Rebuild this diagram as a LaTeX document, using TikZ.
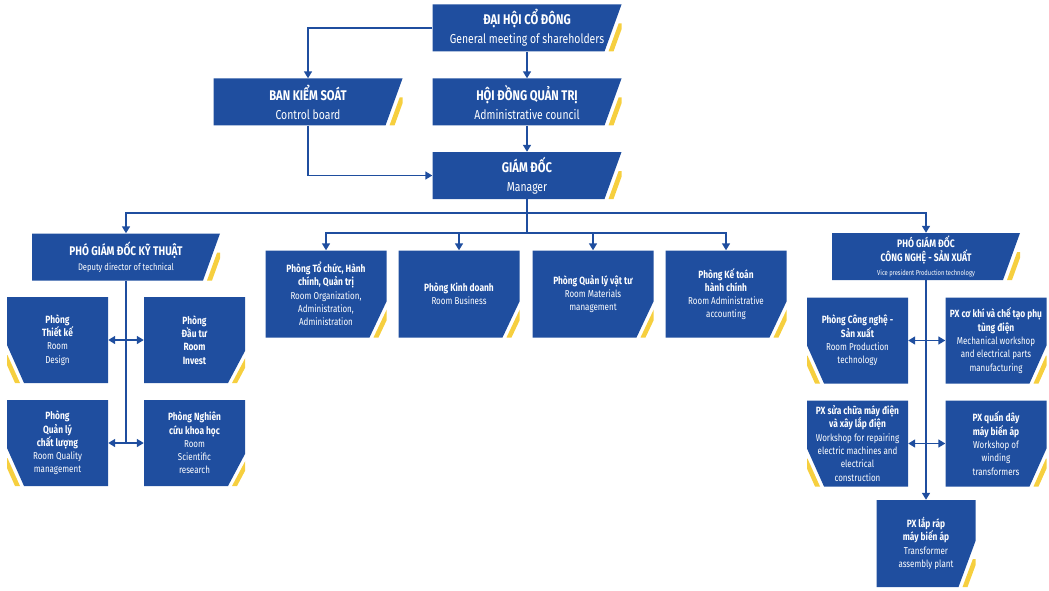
\documentclass[tikz,border=0pt]{standalone}
\usepackage{fontspec}
\setmainfont{Fira Sans}[FakeStretch=0.8]
\usetikzlibrary{arrows.meta}
\definecolor{orgblue}{HTML}{1F4E9F}
\definecolor{orgyellow}{HTML}{F6CF3F}
\newcommand{\headline}[1]{\textbf{\fontsize{14}{19}\selectfont #1}}
\newcommand{\bname}[1]{{\bfseries\fontsize{10.5}{13.3}\selectfont #1}}
\begin{document}
\begin{tikzpicture}
[x=1pt,y=-1pt,
  unitbox/.style={rectangle,inner sep=0pt,text=white,align=center},
  cutR/.style={path picture={
    \pgfmathsetmacro\stripdx{17*min(28,#1)/#1}
    \pgfmathsetmacro\striph{min(28,#1)}
    \fill[orgblue] (path picture bounding box.north west) -- (path picture bounding box.north east)
      -- ([yshift=#1pt]path picture bounding box.south east)
      -- ([xshift=-17pt]path picture bounding box.south east)
      -- (path picture bounding box.south west) -- cycle;
    \fill[orgyellow] ([xshift=-13pt]path picture bounding box.south east) -- ++(5pt,0pt)
      -- ++(\stripdx pt,\striph pt) -- ++(-5pt,0pt) -- cycle;}},
  cutL/.style={path picture={
    \pgfmathsetmacro\stripdx{17*min(28,#1)/#1}
    \pgfmathsetmacro\striph{min(28,#1)}
    \fill[orgblue] (path picture bounding box.north west) -- (path picture bounding box.north east)
      -- (path picture bounding box.south east)
      -- ([xshift=17pt]path picture bounding box.south west)
      -- ([yshift=#1pt]path picture bounding box.south west) -- cycle;
    \fill[orgyellow] ([xshift=13pt]path picture bounding box.south west) -- ++(-5pt,0pt)
      -- ++(-\stripdx pt,\striph pt) -- ++(5pt,0pt) -- cycle;}},
  headbox/.style={unitbox,minimum width=189pt,minimum height=47pt,cutR=47,
    font=\fontsize{13}{19}\selectfont},
  deputybox/.style={unitbox,minimum width=188pt,minimum height=47pt,cutR=47},
  roombox/.style={unitbox,minimum width=121pt,minimum height=87pt,cutR=36,
    font=\fontsize{10}{13.3}\selectfont},
  smallbox/.style={unitbox,minimum width=101pt,minimum height=86pt,
    font=\fontsize{10}{13.3}\selectfont},
  plaindecorate/.style={orgblue,line width=1.6pt},
  linkdecorate/.style={plaindecorate,-{Triangle[width=8pt,length=7pt]}},
  bothdecorate/.style={plaindecorate,{Triangle[width=8pt,length=7pt]}-{Triangle[width=8pt,length=7pt]}}]
\useasboundingbox (0,0) rectangle (1049,591);
% top of the chart
\node (dhcd) at (527,28) [headbox] {\headline{ĐẠI HỘI CỔ ĐÔNG}\\General meeting of shareholders};
\node (bks) at (308,102) [headbox] {\headline{BAN KIỂM SOÁT}\\Control board};
\node (hdqt) at (527,102) [headbox] {\headline{HỘI ĐỒNG QUẢN TRỊ}\\Administrative council};
\node (gd) at (527,175.5) [headbox] {\headline{GIÁM ĐỐC}\\Manager};
% deputies
\node (pgdkt) at (126,257) [deputybox,font=\fontsize{9.5}{15}\selectfont]
  {\textbf{\fontsize{12.5}{15}\selectfont PHÓ GIÁM ĐỐC KỸ THUẬT}\\Deputy director of technical};
\node (pgdcn) at (926,256.5) [deputybox,font=\fontsize{7.2}{14}\selectfont]
  {\textbf{\fontsize{10.8}{14}\selectfont PHÓ GIÁM ĐỐC}\\\textbf{\fontsize{10.8}{14}\selectfont CÔNG NGHỆ - SẢN XUẤT}\\Vice president Production technology};
% rooms under the manager
\node (ptc) at (326,294) [roombox] {\bname{Phòng Tổ chức, Hành}\\\bname{chính, Quản trị}\\Room Organization,\\Administration,\\Administration};
\node (pkd) at (459,294) [roombox] {\bname{Phòng Kinh doanh}\\Room Business};
\node (pqlvt) at (593,294) [roombox] {\bname{Phòng Quản lý vật tư}\\Room Materials\\management};
\node (pkt) at (726,294) [roombox] {\bname{Phòng Kế toán}\\\bname{hành chính}\\Room Administrative\\accounting};
% technical rooms
\node (ptk) at (57.5,340) [smallbox,cutL=38] {\bname{Phòng}\\\bname{Thiết kế}\\Room\\Design};
\node (pdt) at (194.5,340) [smallbox,cutR=32] {\bname{Phòng}\\\bname{Đầu tư}\\\bname{Room}\\\bname{Invest}};
\node (pcl) at (57.5,443) [smallbox,cutL=38] {\bname{Phòng}\\\bname{Quản lý}\\\bname{chất lượng}\\Room Quality\\management};
\node (pnc) at (194.5,443) [smallbox,cutR=32] {\bname{Phòng Nghiên}\\\bname{cứu khoa học}\\Room\\Scientific\\research};
% production workshops
\node (pcn) at (857.5,340.5) [smallbox,cutL=38] {\bname{Phòng Công nghệ -}\\\bname{Sản xuất}\\Room Production\\technology};
\node (pxck) at (996,340.5) [smallbox,cutR=38] {\bname{PX cơ khí và chế tạo phụ}\\\bname{tùng điện}\\Mechanical workshop\\and electrical parts\\manufacturing};
\node (pxsc) at (857.5,443.5) [smallbox,cutL=38] {\bname{PX sửa chữa máy điện}\\\bname{và xây lắp điện}\\Workshop for repairing\\electric machines and\\electrical\\construction};
\node (pxqd) at (996,443.5) [smallbox,cutR=38] {\bname{PX quấn dây}\\\bname{máy biến áp}\\Workshop of\\winding\\transformers};
\node (pxlr) at (926,543.5) [smallbox,minimum width=99pt,minimum height=87pt,cutR=46] {\bname{PX lắp ráp}\\\bname{máy biến áp}\\Transformer\\assembly plant};
% bus points
\coordinate (busA) at (527,213);
\coordinate (busB) at (527,233);
\coordinate (ktEnd) at (126,443);
% connectors
\draw[linkdecorate] (dhcd.west) -| (bks.north);
\draw[linkdecorate] (dhcd.south) -- (hdqt.north);
\draw[linkdecorate] (hdqt.south) -- (gd.north);
\draw[linkdecorate] (bks.south) |- (gd.west);
\draw[plaindecorate] (gd.south) -- (busB);
\draw[linkdecorate] (busA) -| (pgdkt.north);
\draw[linkdecorate] (busA) -| (pgdcn.north);
\draw[linkdecorate] (busB) -| (ptc.north);
\draw[linkdecorate] (busB) -| (pkd.north);
\draw[linkdecorate] (busB) -| (pqlvt.north);
\draw[linkdecorate] (busB) -| (pkt.north);
\draw[plaindecorate] (pgdkt.south) -- (ktEnd);
\draw[bothdecorate] (ptk.east) -- (pdt.west);
\draw[bothdecorate] (pcl.east) -- (pnc.west);
\draw[linkdecorate] (pgdcn.south) -- (pxlr.north);
\draw[bothdecorate] (pcn.east) -- (pxck.west);
\draw[bothdecorate] (pxsc.east) -- (pxqd.west);
\end{tikzpicture}
\end{document}
